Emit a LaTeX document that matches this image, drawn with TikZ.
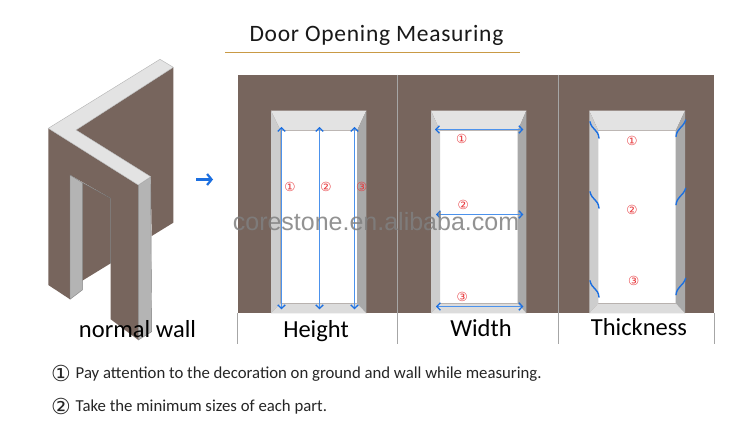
\documentclass[tikz,border=0pt]{standalone}
\usepackage{fontspec}
\setmainfont{Carlito}
\newfontfamily\circfont{DejaVu Sans}
\newfontfamily\wmfont{Liberation Sans}
\usetikzlibrary{arrows.meta}
\definecolor{wallbrown}{HTML}{77655D}
\definecolor{bevtop}{HTML}{E3E3E3}
\definecolor{bevleft}{HTML}{CDCDCD}
\definecolor{bevright}{HTML}{A9A9A9}
\definecolor{bevbot}{HTML}{DCDCDC}
\definecolor{jamb}{HTML}{B4B4B4}
\definecolor{arrowblue}{HTML}{1C6FE0}
\definecolor{shaftblue}{HTML}{4C92EC}
\definecolor{marknum}{HTML}{E8383C}
\definecolor{rulegold}{HTML}{C99A45}
\tikzset{
  x=1pt,y=-1pt,
  measure/.style={draw=shaftblue,line width=1.4pt,{Straight Barb[length=3.5pt,width=7.5pt,line width=1.3pt,color=arrowblue]}-{Straight Barb[length=3.5pt,width=7.5pt,line width=1.3pt,color=arrowblue]}},
  twist/.style={draw=arrowblue,line width=1.4pt,line cap=round},
  num/.style={text=marknum,font=\circfont\fontsize{12.5}{14}\selectfont,inner sep=0pt},
  caption/.style={font=\fontsize{24.5}{28}\selectfont,inner sep=0pt,text=black},
  note/.style={font=\fontsize{16.75}{20}\selectfont,anchor=west,inner sep=0pt,text=black!85},
  bigcirc/.style={font=\circfont\fontsize{22}{24}\selectfont,inner sep=0pt,text=black!85},
  tick/.style={draw=black!35,line width=0.8pt},
  edge/.style={draw=black!55,line width=0.5pt,line join=round},
}
% #1 outer left, #2 inner left, #3 inner right, #4 outer right
\newcommand{\dooropening}[4]{
  \fill[white] (#2,130.7) rectangle (#3,303.3);
  \fill[bevtop] (#1,110.7) -- (#4,110.7) -- (#3,130.7) -- (#2,130.7) -- cycle;
  \fill[bevleft] (#1,110.7) -- (#2,130.7) -- (#2,303.3) -- (#1,313.3) -- cycle;
  \fill[bevright] (#4,110.7) -- (#3,130.7) -- (#3,303.3) -- (#4,313.3) -- cycle;
  \fill[bevbot] (#1,313.3) -- (#2,303.3) -- (#3,303.3) -- (#4,313.3) -- cycle;
}
\begin{document}
\begin{tikzpicture}
\useasboundingbox (0,0) rectangle (750,441);
\fill[white] (0,0) rectangle (750,441);
% title
\node[inner sep=0pt,font=\fontsize{23.5}{28}\selectfont,text=black!90] (title) at (376.5,35) {\addfontfeature{LetterSpace=3}Door Opening Measuring};
\draw[rulegold,line width=1pt] (225,53) -- (520,53);
% left wall
\fill[wallbrown] (76,130) -- (173.3,67.3) -- (173.3,222.7) -- (151.7,236) -- (150.7,176.7) -- cycle;
\fill[wallbrown] (48.3,128.3) -- (138.3,185) -- (138.3,340) -- (110.7,319.3) -- (110.7,198.3) -- (70,175) -- (70,299.3) -- (48.3,285) -- cycle;
\fill[wallbrown] (82.3,182.7) -- (110.7,198.3) -- (110.7,263.3) -- (82.3,280.7) -- cycle;
\fill[jamb,draw=black!50,line width=0.4pt] (70,175) -- (82.3,182.7) -- (82.3,290) -- (70,299.3) -- cycle;
\fill[jamb,draw=black!50,line width=0.4pt] (138.3,185) -- (150.7,176.7) -- (151.7,331.7) -- (138.3,340) -- cycle;
\fill[bevtop,draw=black!30,line width=0.4pt] (48.3,128.3) -- (160,59.3) -- (173.3,67.3) -- (76,130) -- (150.7,176.7) -- (138.3,185) -- cycle;
\draw[edge] (82.3,182.7) -- (110.7,198.3) -- (110.7,263.3);
% arrow between
\draw[draw=arrowblue,line width=2.2pt,-{Straight Barb[length=4.5pt,width=11pt,line width=2.2pt]}] (196,179.5) -- (213,179.5);
% wall panels
\fill[wallbrown] (237.5,74.7) rectangle (714,313.3);
\draw[black!35,line width=0.6pt] (397,74.7) -- (397,313.3) (558,74.7) -- (558,313.3);
\dooropening{271}{280.7}{357}{366.3}
\dooropening{431}{440}{517.7}{526.3}
\dooropening{589.3}{598.3}{675.7}{685}
% height arrows
\draw[measure] (281.5,127) -- (281.5,309.3);
\draw[measure] (319.5,127) -- (319.5,309.3);
\draw[measure] (354.5,127) -- (354.5,309.3);
\node[num] (h1) at (290,187.3) {①};
\node[num] (h2) at (326,187.3) {②};
\node[num] (h3) at (361.7,186.7) {③};
% width arrows
\draw[measure] (435,129.5) -- (523.3,129.5);
\draw[measure] (436,214.5) -- (523.3,214.5);
\draw[measure] (436,306.5) -- (523.3,306.5);
\node[num] (w1) at (461.7,139) {①};
\node[num] (w2) at (463.3,204.7) {②};
\node[num] (w3) at (462.3,296.7) {③};
% thickness marks
\foreach \y in {121.7,191.7,280.7}{
  \draw[twist] (590,\y) .. controls (592,\y+9) and (598,\y+7) .. (599,\y+16.5);
}
\foreach \y in {120,188.3,278.3}{
  \draw[twist] (685.7,\y) .. controls (683,\y+8) and (677,\y+8) .. (676,\y+16.5);
}
\node[num] (t1) at (632,140.7) {①};
\node[num] (t2) at (632,210) {②};
\node[num] (t3) at (633.7,281.3) {③};
% watermark
\node[inner sep=0pt,text=black!50,opacity=0.85,font=\wmfont\fontsize{25}{30}\selectfont] (wm) at (376,222) {corestone.en.alibaba.com};
% captions
\draw[tick] (237.5,313.3) -- (237.5,344) (397,313.3) -- (397,344) (558,313.3) -- (558,344) (714,313.3) -- (714,344);
\node[caption] (c0) at (137.5,329.5) {normal wall};
\node[caption] (c1) at (316,331.5) {Height};
\node[caption] (c2) at (481,328.5) {Width};
\node[caption] (c3) at (639,327) {Thickness};
% notes
\node[bigcirc] (n1) at (61,373) {①};
\node[note] (t1x) at (75.5,374) {Pay attention to the decoration on ground and wall while measuring.};
\node[bigcirc] (n2) at (61,406.5) {②};
\node[note] (t2x) at (75.5,407) {Take the minimum sizes of each part.};
\end{tikzpicture}
\end{document}
